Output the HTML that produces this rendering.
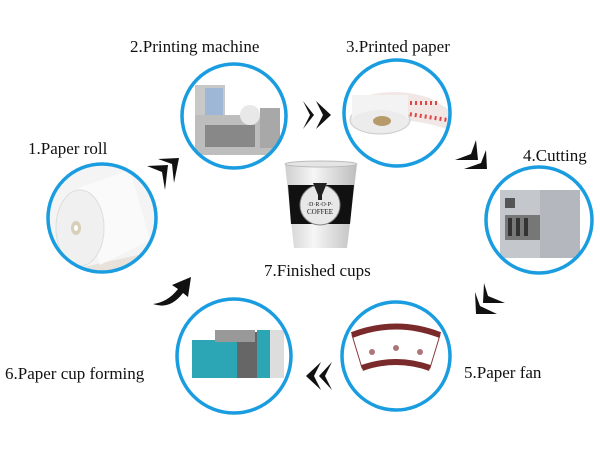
<!DOCTYPE html>
<html><head><style>
html,body{margin:0;padding:0;background:#fff;}
svg{display:block;}
text{font-family:"Liberation Serif",serif;fill:#111;}
</style></head><body>
<svg width="600" height="450" viewBox="0 0 600 450" xmlns="http://www.w3.org/2000/svg">
<rect width="600" height="450" fill="#fff"/>
<text x="130" y="52" font-size="17">2.Printing machine</text>
<text x="346" y="52" font-size="17">3.Printed paper</text>
<text x="28" y="154" font-size="17">1.Paper roll</text>
<text x="523" y="161" font-size="17">4.Cutting</text>
<text x="264" y="276" font-size="17">7.Finished cups</text>
<text x="5" y="379" font-size="17">6.Paper cup forming</text>
<text x="464" y="378" font-size="17">5.Paper fan</text>

<g>
<clipPath id="c1"><circle cx="102" cy="218" r="54"/></clipPath>
<g clip-path="url(#c1)">
<rect x="40" y="160" width="130" height="120" fill="#f4f4f4"/>
<path d="M70 270 L150 270 L160 250 Z" fill="#e8e2da"/>
<path d="M78 188 L130 170 L150 240 L100 265 Z" fill="#fafafa"/>
<ellipse cx="80" cy="228" rx="24" ry="38" fill="#f0f0f0" stroke="#ddd"/>
<ellipse cx="76" cy="228" rx="5" ry="7" fill="#d9cfb8"/>
<ellipse cx="76" cy="228" rx="2" ry="3" fill="#fff"/>
</g>
<circle cx="102" cy="218" r="54" fill="none" stroke="#1a9de0" stroke-width="3.5"/>
</g>

<g>
<clipPath id="c2"><circle cx="234" cy="116" r="52"/></clipPath>
<g clip-path="url(#c2)">
<rect x="195" y="85" width="30" height="65" fill="#c8c8c8"/>
<rect x="205" y="88" width="18" height="30" fill="#9fb7d6"/>
<rect x="195" y="115" width="80" height="40" fill="#bdbdbd"/>
<rect x="205" y="125" width="50" height="22" fill="#888"/>
<circle cx="250" cy="115" r="10" fill="#e8e8e8"/>
<rect x="260" y="108" width="20" height="40" fill="#a8a8a8"/>
</g>
<circle cx="234" cy="116" r="52" fill="none" stroke="#1a9de0" stroke-width="3.5"/>
</g>

<g>
<clipPath id="c3"><circle cx="397" cy="113" r="53"/></clipPath>
<g clip-path="url(#c3)">
<path d="M355 100 Q390 85 430 98 L450 110 L450 130 Q420 120 395 120 Z" fill="#f1e8e6"/>
<path d="M360 103 L440 103" stroke="#d44" stroke-width="4" stroke-dasharray="2 3"/>
<path d="M395 112 L448 120" stroke="#d44" stroke-width="4" stroke-dasharray="2 3"/>
<ellipse cx="380" cy="120" rx="30" ry="14" fill="#e9e9e9" stroke="#ccc"/>
<rect x="352" y="95" width="56" height="25" fill="#f3f3f3"/>
<ellipse cx="380" cy="121" rx="28" ry="11" fill="#ececec"/>
<ellipse cx="382" cy="121" rx="9" ry="5" fill="#b69a6a"/>
</g>
<circle cx="397" cy="113" r="53" fill="none" stroke="#1a9de0" stroke-width="3.5"/>
</g>

<g>
<clipPath id="c4"><circle cx="539" cy="220" r="53"/></clipPath>
<g clip-path="url(#c4)">
<rect x="500" y="190" width="80" height="68" fill="#c4c7cc"/>
<rect x="540" y="190" width="40" height="68" fill="#b4b8be"/>
<rect x="505" y="198" width="10" height="10" fill="#555"/>
<rect x="505" y="215" width="35" height="25" fill="#777"/>
<rect x="508" y="218" width="4" height="18" fill="#333"/><rect x="516" y="218" width="4" height="18" fill="#333"/><rect x="524" y="218" width="4" height="18" fill="#333"/>
</g>
<circle cx="539" cy="220" r="53" fill="none" stroke="#1a9de0" stroke-width="3.5"/>
</g>

<g>
<clipPath id="c5"><circle cx="396" cy="356" r="54"/></clipPath>
<g clip-path="url(#c5)">
<path d="M352 335 Q396 318 440 335 L430 368 Q396 356 362 368 Z" fill="#fff" stroke="#8a3a3a" stroke-width="1"/>
<path d="M352 335 Q396 318 440 335" fill="none" stroke="#7a2a2a" stroke-width="6"/>
<path d="M362 368 Q396 356 430 368" fill="none" stroke="#7a2a2a" stroke-width="6"/>
<circle cx="372" cy="352" r="3" fill="#a77"/><circle cx="396" cy="348" r="3" fill="#a77"/><circle cx="420" cy="352" r="3" fill="#a77"/>
</g>
<circle cx="396" cy="356" r="54" fill="none" stroke="#1a9de0" stroke-width="3.5"/>
</g>

<g>
<clipPath id="c6"><circle cx="234" cy="356" r="57"/></clipPath>
<g clip-path="url(#c6)">
<rect x="192" y="340" width="45" height="38" fill="#2ca5b5"/>
<rect x="237" y="332" width="20" height="46" fill="#666"/>
<rect x="257" y="330" width="22" height="48" fill="#2ca5b5"/>
<rect x="270" y="330" width="14" height="48" fill="#ddd"/>
<rect x="215" y="330" width="40" height="12" fill="#999"/>
</g>
<circle cx="234" cy="356" r="57" fill="none" stroke="#1a9de0" stroke-width="3.5"/>
</g>

<g>
<defs><linearGradient id="cg" x1="0" x2="1"><stop offset="0" stop-color="#cfcfcf"/><stop offset="0.4" stop-color="#f6f6f6"/><stop offset="1" stop-color="#bdbdbd"/></linearGradient></defs>
<path d="M285 164 L357 164 L347 248 L294 248 Z" fill="url(#cg)"/>
<ellipse cx="321" cy="164" rx="36" ry="3" fill="#e5e5e5" stroke="#bbb"/>
<path d="M288 185 L354 185 L350 224 L291 224 Z" fill="#111"/>
<circle cx="320" cy="205" r="20" fill="#e8e8e8" stroke="#888"/>
<path d="M313 183 L327 183 L322 195 L322 200 L318 200 L318 195 Z" fill="#222"/>
<text x="320" y="206" font-size="6" text-anchor="middle">·D·R·O·P·</text>
<text x="320" y="214" font-size="7" text-anchor="middle">COFFEE</text>
</g>

<g fill="#111">
<!-- 2->3 right -->
<path d="M303 101 L314 115 L303 129 L310 115 Z"/>
<path d="M316 101 L331 115 L316 129 L323 115 Z"/>
<!-- 1->2 up-right -->
<path d="M147 166 L168 165 L165 190 L162 172 Z"/>
<path d="M158 159 L179 158 L174 183 L172 164 Z"/>
<!-- 3->4 down-right -->
<path d="M476 140 L478 160 L455 160 L471 154 Z"/>
<path d="M486 150 L487 169 L464 169 L481 163 Z"/>
<!-- 4->5 down-left -->
<path d="M484 283 L483 303 L505 303 L488 296 Z"/>
<path d="M475 292 L476 314 L497 314 L480 306 Z"/>
<!-- 5->6 left -->
<path d="M332 362 L319 376 L332 390 L325 376 Z"/>
<path d="M321 362 L306 376 L321 390 L314 376 Z"/>
<!-- 6->1 curved -->
<path d="M153 304 Q168 302 178 289 L172 285 L191 277 L188 297 L183 293 Q170 310 153 304 Z"/>
</g>
</svg>
</body></html>
